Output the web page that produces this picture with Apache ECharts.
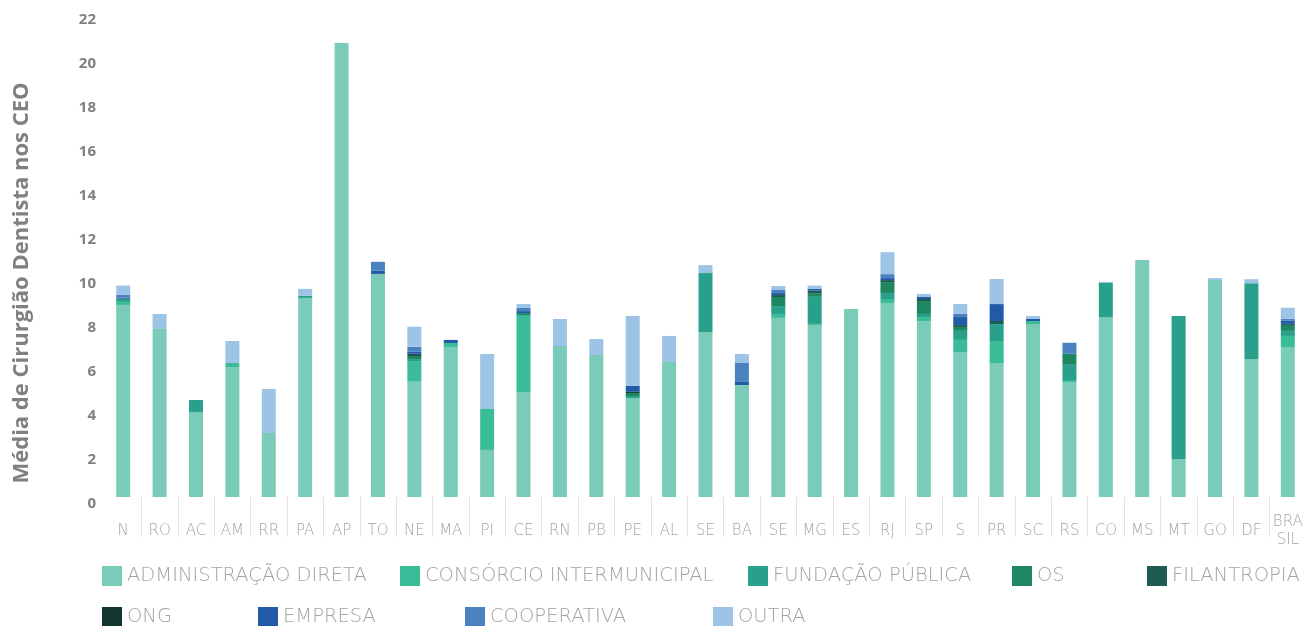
<!DOCTYPE html>
<html>
<head>
<meta charset="utf-8">
<script src="https://cdn.jsdelivr.net/npm/echarts@6/dist/echarts.min.js"></script>
<style>
  html, body { margin: 0; padding: 0; background: #fff; }
  #chart { width: 1306px; height: 626px; }
</style>
</head>
<body>
<div id="chart"></div>
<script>
// categorias (regiões / UF)
const categories = ['N', 'RO', 'AC', 'AM', 'RR', 'PA', 'AP', 'TO', 'NE', 'MA', 'PI', 'CE', 'RN', 'PB', 'PE', 'AL', 'SE', 'BA', 'SE', 'MG', 'ES', 'RJ', 'SP', 'S', 'PR', 'SC', 'RS', 'CO', 'MS', 'MT', 'GO', 'DF', 'BRA\nSIL']

// séries
const administracao = [8.73, 7.64, 3.86, 5.91, 2.91, 9.05, 20.64, 10.14, 5.27, 6.82, 2.14, 4.77, 6.86, 6.45, 4.5, 6.14, 7.5, 5.09, 8.14, 7.82, 8.55, 8.82, 8.0, 6.59, 6.09, 7.86, 5.23, 8.18, 10.77, 1.73, 9.86, 6.27, 6.82]
const consorcio = [0.14, 0, 0, 0.18, 0, 0, 0, 0, 0.91, 0.18, 1.86, 3.5, 0, 0, 0, 0, 0, 0, 0.18, 0.05, 0, 0.18, 0.18, 0.55, 1.0, 0.14, 0.05, 0, 0, 0, 0, 0, 0.5]
const fundacao = [0.14, 0, 0.55, 0, 0, 0.09, 0, 0, 0.09, 0, 0, 0, 0, 0, 0.09, 0, 2.68, 0, 0.36, 1.23, 0, 0.27, 0.14, 0.45, 0.77, 0, 0.73, 1.55, 0, 6.5, 0, 3.45, 0.23]
const os = [0, 0, 0, 0, 0, 0, 0, 0, 0.14, 0, 0, 0.09, 0, 0, 0.14, 0, 0, 0, 0.41, 0.14, 0, 0.5, 0.59, 0.14, 0, 0, 0.5, 0, 0, 0, 0, 0, 0.27]
const filantropia = [0, 0, 0, 0, 0, 0, 0, 0, 0.05, 0, 0, 0, 0, 0, 0, 0, 0, 0, 0.09, 0.14, 0, 0.09, 0.09, 0.09, 0.14, 0, 0, 0, 0, 0, 0, 0, 0.05]
const ong = [0, 0, 0, 0, 0, 0, 0, 0, 0.05, 0, 0, 0, 0, 0, 0.05, 0, 0, 0, 0, 0, 0, 0, 0, 0, 0, 0, 0, 0, 0, 0, 0, 0, 0]
const empresa = [0.05, 0, 0, 0, 0, 0, 0, 0.14, 0.09, 0.14, 0, 0.09, 0, 0, 0.27, 0, 0, 0.14, 0.09, 0.09, 0, 0.09, 0.09, 0.36, 0.77, 0.09, 0, 0, 0, 0, 0, 0, 0.14]
const cooperativa = [0.14, 0, 0, 0, 0, 0, 0, 0.41, 0.23, 0, 0, 0.14, 0, 0, 0, 0, 0, 0.86, 0.14, 0, 0, 0.18, 0, 0.14, 0, 0, 0.5, 0, 0, 0, 0, 0, 0.09]
const outra = [0.41, 0.68, 0, 1.0, 2.0, 0.32, 0, 0, 0.91, 0, 2.5, 0.18, 1.23, 0.73, 3.18, 1.18, 0.36, 0.41, 0.18, 0.14, 0, 1.0, 0.14, 0.45, 1.14, 0.14, 0, 0.05, 0, 0, 0.09, 0.18, 0.5]

const seriesNames = ['ADMINISTRAÇÃO DIRETA', 'CONSÓRCIO INTERMUNICIPAL', 'FUNDAÇÃO PÚBLICA', 'OS', 'FILANTROPIA', 'ONG', 'EMPRESA', 'COOPERATIVA', 'OUTRA']
const seriesData = [administracao, consorcio, fundacao, os, filantropia, ong, empresa, cooperativa, outra]
const colors = ['#7acbb8', '#3bbc98', '#28a08c', '#1e8660', '#1e5b50', '#12352d', '#235aa8', '#4a82bf', '#9dc3e6']

// yAxis ticks
const yMin = 0
const yMax = 22
const yInterval = 2

// posição de cada item da legenda (x, y)
const legendPos = [[102, 566], [400, 566], [748, 566], [1012, 566], [1147, 566], [102, 607], [258, 607], [465, 607], [713, 607]]

const chart = echarts.init(document.getElementById('chart'))

chart.setOption({
  animation: false,
  color: colors,
  grid: {
    left: 105,
    top: 13,
    width: 1209,
    height: 484
  },
  legend: seriesNames.map((name, i) => ({
    data: [name],
    left: legendPos[i][0],
    top: legendPos[i][1],
    padding: 0,
    icon: 'rect',
    itemWidth: 20,
    itemHeight: 20,
    itemGap: 5,
    selectedMode: false,
    textStyle: {
      fontFamily: 'DejaVu Sans',
      fontWeight: 200,
      fontSize: 19.5,
      color: '#a3a3a3'
    }
  })),
  xAxis: {
    type: 'category',
    data: categories,
    offset: 10,
    axisLine: { show: false },
    axisTick: {
      show: true,
      length: 40,
      interval: (i) => i > 0,
      lineStyle: { color: '#e3e3e3', width: 1 }
    },
    axisLabel: {
      interval: 0,
      margin: 24,
      verticalAlign: 'middle',
      lineHeight: 18,
      fontFamily: 'DejaVu Sans',
      fontWeight: 200,
      fontSize: 15,
      color: '#a3a3a3'
    }
  },
  yAxis: {
    type: 'value',
    min: yMin,
    max: yMax,
    interval: yInterval,
    name: 'Média de Cirurgião Dentista nos CEO',
    nameLocation: 'middle',
    nameGap: 72,
    nameTextStyle: {
      fontFamily: 'Open Sans',
      fontWeight: 'bold',
      fontSize: 22,
      color: '#808080',
      padding: [0, 56, 0, 0]
    },
    axisLine: { show: false },
    axisTick: { show: false },
    splitLine: { show: false },
    axisLabel: {
      margin: 9,
      verticalAlign: 'top',
      lineHeight: 14,
      fontFamily: 'Open Sans',
      fontWeight: 'bold',
      fontSize: 15,
      color: '#808080'
    }
  },
  series: seriesNames.map((name, i) => ({
    name,
    type: 'bar',
    stack: 'ceo',
    barWidth: 14,
    data: seriesData[i],
    itemStyle: { color: colors[i] }
  }))
})
</script>
</body>
</html>
